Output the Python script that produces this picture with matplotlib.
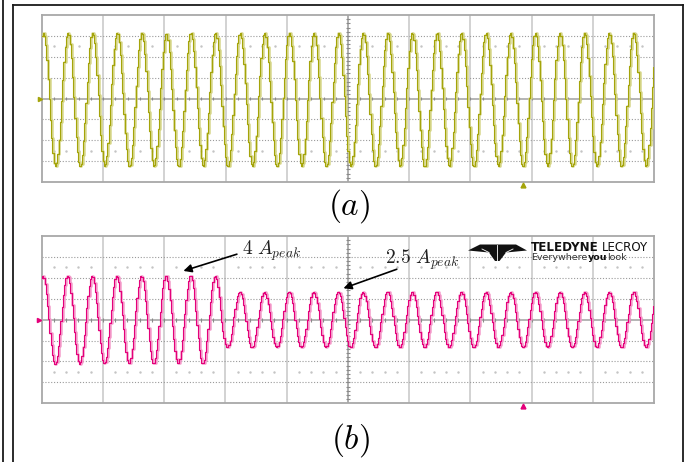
import numpy as np
import matplotlib
matplotlib.use("Agg")
import matplotlib.pyplot as plt
from matplotlib.lines import Line2D
from matplotlib.patches import Polygon

plt.rcParams['mathtext.fontset'] = 'cm'

# ---- values (units: scope divisions) ----
n_hdiv = 10
n_vdiv = 8
cycles_per_div = [2.488, 2.488]       # (a), (b)
phase_div = [0.02, 0.02]              # time of first peak
amp_a = [3.2]                         # peak amplitude (a)
offset_a = [-0.05]
amp_b = [2.1, 1.33]                   # peak amplitude (b) before / after step (4 A -> 2.5 A)
switch_b = [2.93]                     # time of the amplitude step in (b)
captions = [r'$(a)$', r'$(b)$']
ann_labels = [r'$4\ A_{peak}$', r'$2.5\ A_{peak}$']
trigger_pos = [7.86]

W, H = 691, 462
fig = plt.figure(figsize=(W / 100, H / 100), dpi=100)

def fx(px):
    return px / W

def fy(py):
    return 1 - py / H

def make_axes(x0, x1, y0, y1):
    ax = fig.add_axes([fx(x0), fy(y1), fx(x1) - fx(x0), (y1 - y0) / H])
    ax.set_xlim(0, n_hdiv)
    ax.set_ylim(-n_vdiv / 2, n_vdiv / 2)
    ax.set_xticks([])
    ax.set_yticks([])
    for s in ax.spines.values():
        s.set_color('#a8a8a8')
        s.set_linewidth(1.3)
    # vertical grid
    for k in range(1, n_hdiv):
        if k == n_hdiv // 2:
            ax.axvline(k, color='#9a9a9a', lw=1.1, zorder=1)
        else:
            ax.axvline(k, color='#d2d2d2', lw=1.4, zorder=1)
    # horizontal grid
    for k in range(-3, 4):
        if k == 0:
            ax.axhline(0, color='#a8a8a8', lw=1.2, zorder=1)
        else:
            ax.axhline(k, color='#9a9a9a', lw=0.8, dashes=(1, 1.6), zorder=1)
    # minor dots rows
    xs = np.arange(0.2, n_hdiv, 0.2)
    xs = xs[np.abs(xs - np.round(xs)) > 1e-6]
    for yrow in (2.5, -2.5):
        ax.plot(xs, np.full_like(xs, yrow), ls='none', marker='s', ms=0.7,
                color='#c4c4c4', zorder=1)
    # ticks on center lines
    tx = np.arange(0.2, n_hdiv, 0.2)
    ax.vlines(tx, -0.09, 0.09, color='#8a8a8a', lw=0.8, zorder=1)
    ty = np.arange(-3.8, 4.0, 0.2)
    ax.hlines(ty, 5 - 0.035, 5 + 0.035, color='#8a8a8a', lw=0.8, zorder=1)
    return ax

ax_a = make_axes(42, 654, 15, 182)
ax_b = make_axes(41.5, 654, 236, 403.3)

t = np.arange(0, n_hdiv + 0.0001, 0.02)

ya = offset_a[0] + amp_a[0] * np.cos(2 * np.pi * cycles_per_div[0] * (t - phase_div[0]))
ampb = np.where(t < switch_b[0], amp_b[0], amp_b[1])
yb = ampb * np.cos(2 * np.pi * cycles_per_div[1] * (t - phase_div[1]))

col_a, halo_a = '#a4a40a', '#d6d68a'
col_b, halo_b = '#e4007a', '#f49ccb'

ax_a.plot(t + 0.014, ya, color=halo_a, lw=1.8, drawstyle='steps-mid', zorder=3)
ax_a.plot(t, ya, color=col_a, lw=0.8, drawstyle='steps-mid', zorder=4)
ax_b.plot(t + 0.014, yb, color=halo_b, lw=1.8, drawstyle='steps-mid', zorder=3)
ax_b.plot(t, yb, color=col_b, lw=0.8, drawstyle='steps-mid', zorder=4)

# ground and trigger markers
for ax, c in ((ax_a, col_a), (ax_b, col_b)):
    ax.plot([-0.04], [0], marker='>', ms=3, color=c, clip_on=False, zorder=5)
    ax.plot([trigger_pos[0]], [-4.12], marker='^', ms=3.5, color=c, clip_on=False, zorder=5)

# captions
fig.text(fx(349), fy(206), captions[0], fontsize=24, ha='center', va='center')
fig.text(fx(350), fy(440), captions[1], fontsize=24, ha='center', va='center')

# annotations on (b)
arrow = dict(arrowstyle='-|>', mutation_scale=12, lw=1.2, color='k', shrinkA=0, shrinkB=0)
ax_b.annotate('', xy=(2.317, 2.33), xytext=(3.19, 3.13), arrowprops=arrow, zorder=6)
ax_b.text(3.27, 3.13, ann_labels[0], fontsize=14, ha='left', va='baseline', color='#222222')
ax_b.annotate('', xy=(4.93, 1.50), xytext=(5.80, 2.41), arrowprops=arrow, zorder=6)
ax_b.text(5.61, 2.66, ann_labels[1], fontsize=14, ha='left', va='baseline', color='#222222')

# Teledyne LeCroy logo
logo_pts = [(468, 250.5), (480, 244.5), (516, 244.5), (527, 250.5), (506, 252.5),
            (499.5, 261), (495, 261), (489, 252.5)]
fig.add_artist(Polygon([(fx(x), fy(y)) for x, y in logo_pts], closed=True,
                       transform=fig.transFigure, facecolor='#111111', edgecolor='none'))
for x0, y0, x1, y1 in ((497, 245, 497, 261), (489, 252.5, 482, 249), (506, 252.5, 513, 249)):
    fig.add_artist(Line2D([fx(x0), fx(x1)], [fy(y0), fy(y1)], color='white', lw=0.6,
                          transform=fig.transFigure))
fig.text(fx(531), fy(250.5), 'TELEDYNE', fontsize=8.6, fontweight='bold',
         family='DejaVu Sans', ha='left', va='baseline', color='#111111')
fig.text(fx(602), fy(250.5), 'LECROY', fontsize=8.6, family='DejaVu Sans',
         ha='left', va='baseline', color='#111111')
fig.text(fx(531), fy(260.5), 'Everywhere', fontsize=6.8, family='DejaVu Sans',
         ha='left', va='baseline', color='#333333')
fig.text(fx(588), fy(260.5), 'you', fontsize=6.8, fontweight='bold', family='DejaVu Sans',
         ha='left', va='baseline', color='#111111')
fig.text(fx(607), fy(260.5), 'look', fontsize=6.8, family='DejaVu Sans',
         ha='left', va='baseline', color='#333333')

# outer frame lines
frame = [((3, 0), (3, 462)), ((13, 4.5), (13, 462)), ((13, 4.5), (683, 4.5)),
         ((683, 4.5), (683, 462))]
for (x0, y0), (x1, y1) in frame:
    fig.add_artist(Line2D([fx(x0), fx(x1)], [fy(y0), fy(y1)], color='#1a1a1a', lw=1.3,
                          transform=fig.transFigure))

fig.savefig('out.png', dpi=100)
